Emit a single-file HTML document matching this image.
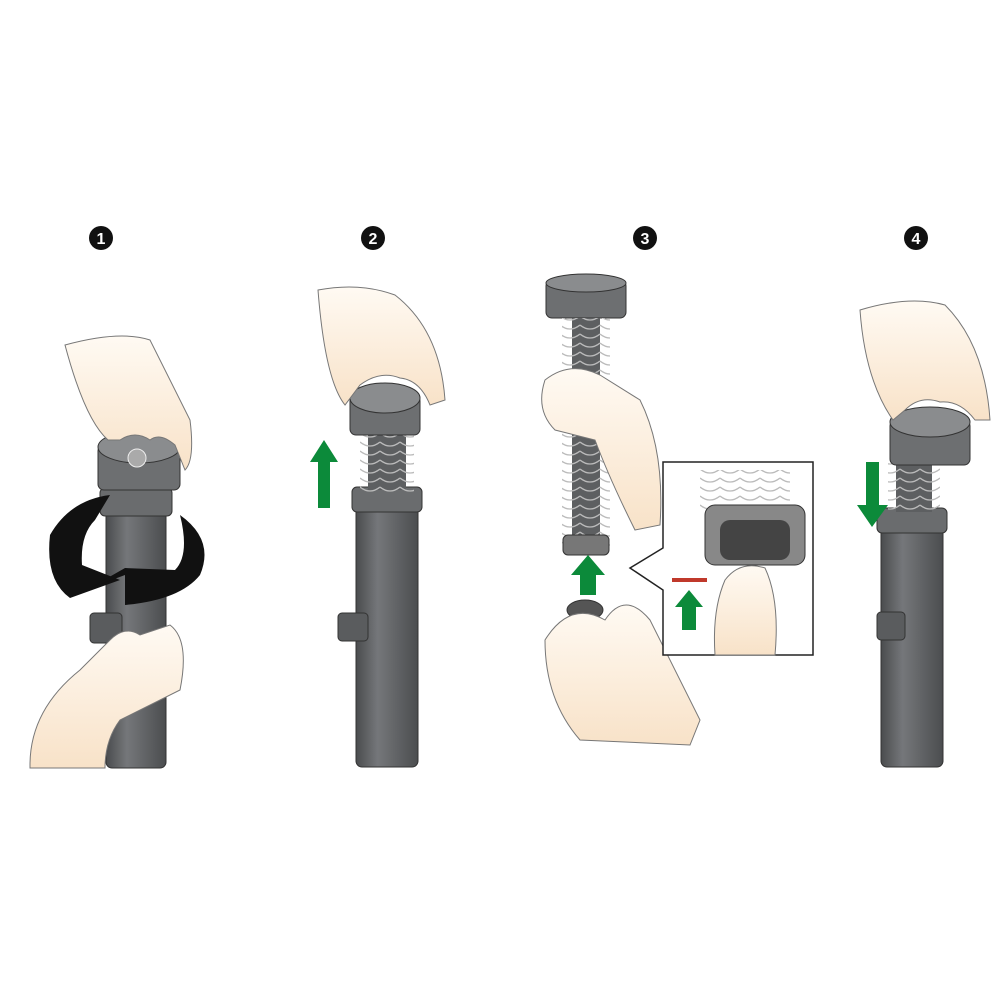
<!DOCTYPE html>
<html><head><meta charset="utf-8"><style>
html,body{margin:0;padding:0;background:#fff}
svg{display:block}
text{font-family:"Liberation Sans",sans-serif;font-weight:bold}
</style></head><body>
<svg width="1000" height="1000" viewBox="0 0 1000 1000" xmlns="http://www.w3.org/2000/svg">
<defs>
<linearGradient id="pipe" x1="0" x2="1"><stop offset="0" stop-color="#4a4c4e"/><stop offset="0.35" stop-color="#75777a"/><stop offset="1" stop-color="#4b4d4f"/></linearGradient>
<linearGradient id="skin" x1="0" x2="0" y1="0" y2="1"><stop offset="0" stop-color="#fffaf3"/><stop offset="1" stop-color="#f8e2c8"/></linearGradient>
<pattern id="spr" width="20" height="9" patternUnits="userSpaceOnUse"><path d="M0 1 Q10 9 20 1" stroke="#bbb" stroke-width="1.3" fill="none"/></pattern>
</defs>
<g fill="#111"><circle cx="101" cy="238" r="12"/><circle cx="373" cy="238" r="12"/><circle cx="645" cy="238" r="12"/><circle cx="916" cy="238" r="12"/></g>
<g fill="#fff" font-size="16" text-anchor="middle"><text x="101" y="244">1</text><text x="373" y="244">2</text><text x="645" y="244">3</text><text x="916" y="244">4</text></g>

<!-- PANEL 1 -->
<rect x="106" y="500" width="60" height="268" rx="6" fill="url(#pipe)" stroke="#333"/>
<rect x="100" y="488" width="72" height="28" rx="5" fill="#6a6c6e" stroke="#333"/>
<rect x="90" y="613" width="32" height="30" rx="4" fill="#5a5c5e" stroke="#333"/>
<rect x="98" y="445" width="82" height="45" rx="6" fill="#6d6f71" stroke="#333"/>
<ellipse cx="139" cy="447" rx="41" ry="16" fill="#8a8c8e" stroke="#333"/>
<circle cx="137" cy="458" r="9" fill="#aaa" stroke="#eee"/>
<path d="M65 345 Q120 330 150 340 L190 420 Q195 460 185 470 L175 445 Q160 432 150 440 Q135 430 120 440 L108 440 Q85 420 65 345Z" fill="url(#skin)" stroke="#777"/>
<path d="M50 535 Q70 500 110 495 L95 520 Q80 535 82 565 L120 580 L70 598 Q45 580 50 535Z" fill="#111"/>
<path d="M180 515 Q215 540 200 575 Q180 600 125 605 L125 575 L90 588 L125 568 L175 570 Q190 555 180 515Z" fill="#111"/>
<path d="M30 765 Q30 710 80 670 L110 640 Q125 625 140 635 L170 625 Q190 640 180 690 Q150 705 120 720 Q105 740 105 768 L30 768Z" fill="url(#skin)" stroke="#777"/>

<!-- PANEL 2 -->
<rect x="356" y="505" width="62" height="262" rx="6" fill="url(#pipe)" stroke="#333"/>
<rect x="352" y="487" width="70" height="25" rx="5" fill="#6a6c6e" stroke="#333"/>
<rect x="338" y="613" width="30" height="28" rx="4" fill="#5a5c5e" stroke="#333"/>
<rect x="368" y="430" width="38" height="60" fill="#5d5f61"/>
<rect x="360" y="430" width="54" height="62" fill="url(#spr)"/>
<rect x="350" y="395" width="70" height="40" rx="6" fill="#6d6f71" stroke="#333"/>
<ellipse cx="385" cy="398" rx="35" ry="15" fill="#8a8c8e" stroke="#333"/>
<path d="M318 290 Q360 282 395 295 Q440 330 445 400 L430 405 Q420 380 400 378 Q380 370 360 385 L345 405 Q325 380 318 290Z" fill="url(#skin)" stroke="#777"/>
<path d="M324 440 L310 462 L318 462 L318 508 L330 508 L330 462 L338 462Z" fill="#0c8a3a"/>

<!-- PANEL 3 -->
<rect x="546" y="280" width="80" height="38" rx="6" fill="#6d6f71" stroke="#333"/>
<ellipse cx="586" cy="283" rx="40" ry="9" fill="#8a8c8e" stroke="#333"/>
<rect x="572" y="318" width="28" height="232" fill="#5d5f61"/>
<rect x="562" y="318" width="48" height="232" fill="url(#spr)"/>
<rect x="563" y="535" width="46" height="20" rx="5" fill="#777" stroke="#333"/>
<path d="M545 380 Q570 360 600 375 L640 400 Q665 450 660 525 L635 530 Q610 480 595 440 L555 430 Q535 410 545 380Z" fill="url(#skin)" stroke="#777"/>
<path d="M588 555 L571 575 L580 575 L580 595 L596 595 L596 575 L605 575Z" fill="#0c8a3a"/>
<ellipse cx="585" cy="610" rx="18" ry="10" fill="#555" stroke="#333"/>
<path d="M545 640 Q570 600 605 620 Q625 590 650 620 L700 720 L690 745 L580 740 Q545 700 545 640Z" fill="url(#skin)" stroke="#777"/>
<path d="M663 462 H813 V655 H663 V590 L630 568 L663 548Z" fill="#fff" stroke="#222" stroke-width="1.5"/>
<rect x="700" y="470" width="90" height="40" fill="url(#spr)"/>
<rect x="705" y="505" width="100" height="60" rx="10" fill="#888" stroke="#333"/>
<rect x="720" y="520" width="70" height="40" rx="10" fill="#444"/>
<path d="M725 580 Q740 560 765 568 Q780 600 775 655 L715 655 Q712 610 725 580Z" fill="url(#skin)" stroke="#777"/>
<rect x="672" y="578" width="35" height="4" fill="#c0392b"/>
<path d="M689 590 L675 607 L682 607 L682 630 L696 630 L696 607 L703 607Z" fill="#0c8a3a"/>

<!-- PANEL 4 -->
<rect x="881" y="525" width="62" height="242" rx="6" fill="url(#pipe)" stroke="#333"/>
<rect x="877" y="508" width="70" height="25" rx="5" fill="#6a6c6e" stroke="#333"/>
<rect x="877" y="612" width="28" height="28" rx="4" fill="#5a5c5e" stroke="#333"/>
<rect x="896" y="462" width="36" height="50" fill="#5d5f61"/>
<rect x="888" y="462" width="52" height="50" fill="url(#spr)"/>
<rect x="890" y="420" width="80" height="45" rx="6" fill="#6d6f71" stroke="#333"/>
<ellipse cx="930" cy="422" rx="40" ry="15" fill="#8a8c8e" stroke="#333"/>
<path d="M860 310 Q910 295 945 305 Q985 345 990 420 L975 420 Q960 400 940 402 Q920 395 905 410 L893 420 Q865 380 860 310Z" fill="url(#skin)" stroke="#777"/>
<path d="M872 527 L857 505 L866 505 L866 462 L879 462 L879 505 L888 505Z" fill="#0c8a3a"/>
</svg>
</body></html>
